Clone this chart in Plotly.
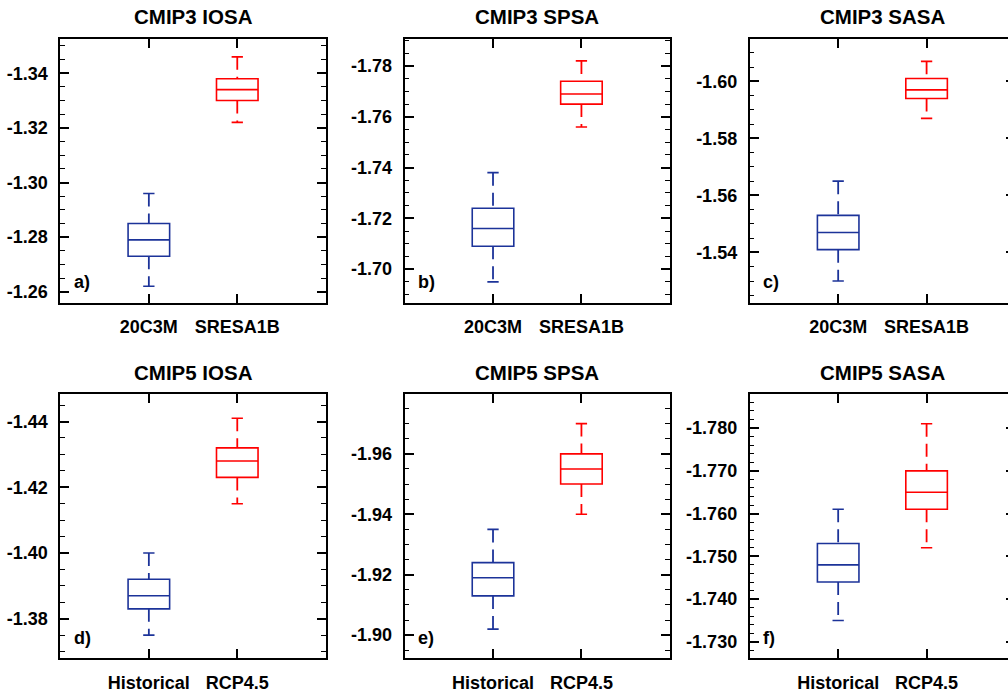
import plotly.graph_objects as go

# ---------------- data ----------------
cats_cmip3 = ["20C3M", "SRESA1B"]
cats_cmip5 = ["Historical", "RCP4.5"]

titles = ["CMIP3 IOSA", "CMIP3 SPSA", "CMIP3 SASA",
          "CMIP5 IOSA", "CMIP5 SPSA", "CMIP5 SASA"]
panel_labels = ["a)", "b)", "c)", "d)", "e)", "f)"]

# stats per box: [min, q1, median, q3, max]
a_hist = [-1.296, -1.285, -1.279, -1.273, -1.262]
a_proj = [-1.346, -1.338, -1.334, -1.330, -1.322]
b_hist = [-1.738, -1.724, -1.716, -1.709, -1.695]
b_proj = [-1.782, -1.774, -1.769, -1.765, -1.756]
c_hist = [-1.565, -1.553, -1.547, -1.541, -1.530]
c_proj = [-1.607, -1.601, -1.597, -1.594, -1.587]
d_hist = [-1.400, -1.392, -1.387, -1.383, -1.375]
d_proj = [-1.441, -1.432, -1.428, -1.423, -1.415]
e_hist = [-1.935, -1.924, -1.919, -1.913, -1.902]
e_proj = [-1.970, -1.960, -1.955, -1.950, -1.940]
f_hist = [-1.761, -1.753, -1.748, -1.744, -1.735]
f_proj = [-1.781, -1.770, -1.765, -1.761, -1.752]

# y ranges (bottom value, top value) -> reversed axes
y_ranges = [(-1.256, -1.3526), (-1.6868, -1.7907), (-1.5224, -1.6149),
            (-1.368, -1.4483), (-1.8924, -1.9797), (-1.7262, -1.7879)]
y_ticks = [[-1.34, -1.32, -1.30, -1.28, -1.26],
           [-1.78, -1.76, -1.74, -1.72, -1.70],
           [-1.60, -1.58, -1.56, -1.54],
           [-1.44, -1.42, -1.40, -1.38],
           [-1.96, -1.94, -1.92, -1.90],
           [-1.780, -1.770, -1.760, -1.750, -1.740, -1.730]]
y_decimals = [2, 2, 2, 2, 2, 3]
minor_steps = [0.005, 0.005, 0.005, 0.005, 0.005, 0.002]

panels = [(a_hist, a_proj), (b_hist, b_proj), (c_hist, c_proj),
          (d_hist, d_proj), (e_hist, e_proj), (f_hist, f_proj)]

# ---------------- layout geometry (page pixels) ----------------
# the figure is a little wider than the 1008 px window: the right-hand
# column runs past the window edge, as in the original picture
W, H = 1017, 693
col_left = [60.5, 405.0, 750.5]
pw = 265.5
row_top = [39.0, 396.0]
ph = 265.0


def px_x(p):
    return p / W


def px_y(p):
    return 1 - p / H


BLUE = "#1c3399"
RED = "#ff0000"
box_half = 0.235
cap_half = 0.064
font_family = "Liberation Sans, Arial, Helvetica, sans-serif"

fig = go.Figure()
layout = dict(width=W, height=H, margin=dict(l=0, r=0, t=0, b=0),
              paper_bgcolor="white", plot_bgcolor="white", showlegend=False,
              annotations=[])

for i in range(6):
    r, c = divmod(i, 3)
    idx = "" if i == 0 else str(i + 1)
    xa, ya = "x" + idx, "y" + idx
    left = col_left[c]
    right = left + pw
    top = row_top[r]
    bottom = top + ph
    xdom = [px_x(left), px_x(right)]
    ydom = [px_y(bottom), px_y(top)]
    cats = cats_cmip3 if r == 0 else cats_cmip5

    for k, (stats, col) in enumerate(zip(panels[i], [BLUE, RED])):
        pos = k + 1
        mn, q1, md, q3, mx = stats
        fig.add_trace(go.Box(x=[pos], q1=[q1], median=[md], q3=[q3],
                             lowerfence=[q1], upperfence=[q3],
                             width=2 * box_half, whiskerwidth=0,
                             line=dict(color=col, width=1.6),
                             fillcolor="rgba(0,0,0,0)", boxpoints=False,
                             hoverinfo="skip", xaxis=xa, yaxis=ya))
        # whiskers (dashed), drawn from the more negative end downwards
        fig.add_trace(go.Scatter(x=[pos, pos], y=[mn, q1], mode="lines",
                                 line=dict(color=col, width=1.8, dash="13px,7px"),
                                 hoverinfo="skip", xaxis=xa, yaxis=ya))
        fig.add_trace(go.Scatter(x=[pos, pos], y=[q3, mx], mode="lines",
                                 line=dict(color=col, width=1.8, dash="13px,7px"),
                                 hoverinfo="skip", xaxis=xa, yaxis=ya))
        # caps
        fig.add_trace(go.Scatter(x=[pos - cap_half, pos + cap_half, None,
                                    pos - cap_half, pos + cap_half],
                                 y=[mn, mn, None, mx, mx], mode="lines",
                                 line=dict(color=col, width=1.6),
                                 hoverinfo="skip", xaxis=xa, yaxis=ya))

    layout["xaxis" + idx] = dict(
        domain=xdom, anchor=ya, range=[0, 3], tickmode="array",
        tickvals=[1, 2], ticktext=cats, ticks="inside", ticklen=9, tickwidth=2,
        tickcolor="black", showline=True, linecolor="black", linewidth=2,
        mirror="allticks", showgrid=False, zeroline=False, fixedrange=True,
        ticklabelstandoff=7,
        tickfont=dict(family=font_family, size=18, color="black", weight="bold"))
    dec = y_decimals[i]
    layout["yaxis" + idx] = dict(
        domain=ydom, anchor=xa, range=list(y_ranges[i]), tickmode="array",
        tickvals=y_ticks[i], ticktext=[f"{v:.{dec}f}" for v in y_ticks[i]],
        ticks="inside", ticklen=9, tickwidth=2, tickcolor="black",
        showline=True, linecolor="black", linewidth=2, mirror="allticks",
        showgrid=False, zeroline=False, fixedrange=True, ticklabelstandoff=7,
        minor=dict(tickmode="linear", tick0=y_ticks[i][0], dtick=minor_steps[i],
                   ticks="inside", ticklen=4.5, tickwidth=1.2, tickcolor="black",
                   showgrid=False),
        tickfont=dict(family=font_family, size=18, color="black", weight="bold"))

    # title
    layout["annotations"].append(dict(
        text="<b>" + titles[i] + "</b>", xref="paper", yref="paper",
        x=px_x(left + pw / 2), y=px_y(top - 22.3), xanchor="center",
        yanchor="middle", showarrow=False,
        font=dict(family=font_family, size=20.5, color="black")))
    # panel label
    layout["annotations"].append(dict(
        text="<b>" + panel_labels[i] + "</b>", xref="paper", yref="paper",
        x=px_x(left + 11.5), y=px_y(bottom - 20.5), xanchor="left",
        yanchor="middle", showarrow=False,
        font=dict(family=font_family, size=18, color="black")))

fig.update_layout(**layout)
fig.write_html("out.html", config={"displayModeBar": False},
               post_script="document.body.style.margin='0';"
                           "document.body.style.overflow='hidden';")
